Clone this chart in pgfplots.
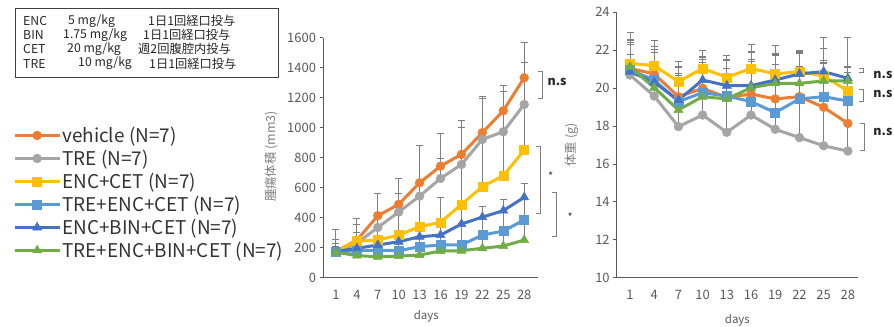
\documentclass[border=0pt]{standalone}
\usepackage{pgfplots}
\pgfplotsset{compat=1.18}
\usepackage{fontspec}
\setmainfont{Noto Sans CJK JP}
\definecolor{cveh}{HTML}{ED7D31}
\definecolor{ctre}{HTML}{A5A5A5}
\definecolor{cec}{HTML}{FFC000}
\definecolor{ctec}{HTML}{5B9BD5}
\definecolor{cebc}{HTML}{4472C4}
\definecolor{ctebc}{HTML}{70AD47}
\definecolor{axgray}{HTML}{595959}
\definecolor{errgray}{HTML}{7F7F7F}
\pgfplotsset{
  common/.style={
    scale only axis, anchor=south west,
    axis x line*=bottom, axis y line*=left,
    axis line style={draw=axgray, line width=1bp},
    tick align=outside, xtick style={draw=none},
    ytick style={draw=axgray, line width=0.8bp}, major tick length=3.5bp,
    xtick={0,...,9}, xticklabels={1,4,7,10,13,16,19,22,25,28},
    tick label style={font=\fontsize{13}{15}\selectfont, text=axgray},
    xticklabel style={yshift=-5.5bp},
    /pgf/number format/assume math mode=true,
    /pgf/number format/1000 sep={},
    label style={font=\fontsize{12.5}{14}\selectfont, text=errgray},
    xlabel style={text=axgray, font=\fontsize{11.5}{13}\selectfont},
    clip=false,
    error bars/y dir=plus, error bars/y explicit,
    error bars/error bar style={draw=errgray, line width=1bp},
    error bars/error mark options={rotate=90, mark size=3.5bp, line width=1bp, draw=errgray},
    legend image code/.code={\draw[mark repeat=2,mark phase=2] plot coordinates {(0bp,0bp) (22.5bp,0bp) (45bp,0bp)};},
  },
  sveh/.style={draw=cveh, line width=3bp, mark=*, mark size=4.4bp, mark options={solid, fill=cveh, draw=cveh, line width=0.5bp}},
  stre/.style={draw=ctre, line width=3bp, mark=*, mark size=4.4bp, mark options={solid, fill=ctre, draw=ctre, line width=0.5bp}},
  sec/.style={draw=cec, line width=3bp, mark=square*, mark size=4.5bp, mark options={solid, fill=cec, draw=cec, line width=0.5bp}},
  stec/.style={draw=ctec, line width=3bp, mark=square*, mark size=4.5bp, mark options={solid, fill=ctec, draw=ctec, line width=0.5bp}},
  sebc/.style={draw=cebc, line width=3bp, mark=triangle*, mark size=5.2bp, mark options={solid, fill=cebc, draw=cebc, line width=0.5bp}},
  stebc/.style={draw=ctebc, line width=3bp, mark=triangle*, mark size=5.2bp, mark options={solid, fill=ctebc, draw=ctebc, line width=0.5bp}},
}
\begin{document}
\begin{tikzpicture}
\useasboundingbox (0bp,0bp) rectangle (894bp,327bp);
% dosing box
\draw[line width=0.8bp, black!75] (15bp,250bp) rectangle (278bp,319bp);
\begin{scope}[every node/.style={anchor=west, inner sep=0pt, font=\fontsize{12.3}{14}\selectfont, text=black!85}]
\node at (23bp,306.3bp) {ENC};  \node at (68bp,306.3bp) {5 mg/kg};    \node at (148bp,306.3bp) {1日1回経口投与};
\node at (23bp,292bp)   {BIN};  \node at (63bp,292bp)   {1.75 mg/kg}; \node at (143bp,292bp) {1日1回経口投与};
\node at (23bp,277.7bp) {CET};  \node at (67bp,277.7bp) {20 mg/kg};   \node at (138bp,277.7bp) {週2回腹腔内投与};
\node at (23bp,263.4bp) {TRE};  \node at (78bp,263.4bp) {10 mg/kg};   \node at (149bp,263.4bp) {1日1回経口投与};
\end{scope}

% tumour volume
\begin{axis}[common,
  at={(323bp,49.3bp)}, width=215bp, height=240bp,
  xmin=-0.62, xmax=9.66, ymin=0, ymax=1600, ytick={0,200,...,1600},
  xlabel={days}, ylabel={腫瘍体積 (mm3)},
  xlabel style={at={(axis description cs:0.48,-0.16)}, anchor=center},
  ylabel style={at={(axis description cs:-0.239,0.505)}, anchor=center},
  legend style={at={(axis description cs:-1.456,0.642)}, anchor=north west, draw=none, fill=none,
    font=\fontsize{19}{21}\selectfont, text=black!80, row sep=3.6bp,
    nodes={inner sep=1.2bp}},
  legend cell align=left,
]
\addplot[sveh] coordinates {(0,175) +- (0,143) (1,250) +- (0,146) (2,413) +- (0,150) (3,489) +- (0,174) (4,633) +- (0,250) (5,744) +- (0,219) (6,822) +- (0,225) (7,967) +- (0,240) (8,1113) +- (0,171) (9,1333) +- (0,236)};
\addlegendentry{vehicle (N=7)}
\addplot[stre] coordinates {(0,170) +- (0,86) (1,230) +- (0,126) (2,335) +- (0,100) (3,438) +- (0,125) (4,544) +- (0,340) (5,662) +- (0,134) (6,755) +- (0,248) (7,922) +- (0,270) (8,973) +- (0,271) (9,1155) +- (0,281)};
\addlegendentry{TRE (N=7)}
\addplot[sec] coordinates {(0,175) +- (0,55) (1,244) +- (0,56) (2,251) +- (0,84) (3,284) +- (0,154) (4,340) +- (0,204) (5,369) +- (0,167) (6,489) +- (0,266) (7,607) +- (0,315) (8,680) +- (0,293) (9,850) +- (0,290)};
\addlegendentry{ENC+CET (N=7)}
\addplot[stec] coordinates {(0,170) +- (0,40) (1,180) +- (0,30) (2,184) +- (0,40) (3,180) +- (0,60) (4,207) +- (0,66) (5,218) +- (0,66) (6,218) +- (0,140) (7,284) +- (0,120) (8,311) +- (0,136) (9,385) +- (0,152)};
\addlegendentry{TRE+ENC+CET (N=7)}
\addplot[sebc] coordinates {(0,175) +- (0,54) (1,196) +- (0,48) (2,218) +- (0,33) (3,240) +- (0,44) (4,273) +- (0,67) (5,284) +- (0,85) (6,358) +- (0,131) (7,404) +- (0,68) (8,447) +- (0,71) (9,536) +- (0,93)};
\addlegendentry{ENC+BIN+CET (N=7)}
\addplot[stebc] coordinates {(0,170) +- (0,30) (1,147) +- (0,33) (2,140) +- (0,44) (3,144) +- (0,36) (4,151) +- (0,56) (5,178) +- (0,40) (6,180) +- (0,38) (7,196) +- (0,88) (8,211) +- (0,100) (9,251) +- (0,134)};
\addlegendentry{TRE+ENC+BIN+CET (N=7)}
% significance brackets
\draw[errgray, line width=0.8bp] (axis cs:9.68,1373) -- (axis cs:9.89,1373) -- (axis cs:9.89,1196) -- (axis cs:9.68,1196);
\node[font=\bfseries\fontsize{12.5}{14}\selectfont, text=black!85] at (axis cs:10.57,1307) {n.s};
\draw[errgray, line width=0.8bp] (axis cs:9.57,878) -- (axis cs:9.76,878) -- (axis cs:9.76,429) -- (axis cs:9.57,429);
\node[font=\fontsize{11}{12}\selectfont, text=black!80] at (axis cs:10.27,680) {*};
\draw[errgray, line width=0.8bp] (axis cs:10.35,569) -- (axis cs:10.53,569) -- (axis cs:10.53,278) -- (axis cs:10.35,278);
\node[font=\fontsize{11}{12}\selectfont, text=black!80] at (axis cs:11.2,407) {*};
\end{axis}

% body weight
\begin{axis}[common,
  at={(616.7bp,49.3bp)}, width=241.3bp, height=265.4bp,
  xmin=-0.55, xmax=9.42, ymin=10, ymax=24, ytick={10,12,...,24},
  xlabel={days}, ylabel={体重 (g)},
  xlabel style={at={(axis description cs:0.5,-0.159)}, anchor=center},
  ylabel style={at={(axis description cs:-0.185,0.5)}, anchor=center},
]
\addplot[sveh] coordinates {(0,21.04) +- (0,1.9) (1,20.75) +- (0,1.75) (2,19.55) +- (0,1.88) (3,19.99) +- (0,2.0) (4,19.51) +- (0,2.2) (5,19.69) +- (0,2.6) (6,19.43) +- (0,2.8) (7,19.55) +- (0,2.4) (8,18.99) +- (0,3.1) (9,18.14) +- (0,1.14)};
\addplot[stre] coordinates {(0,20.69) +- (0,1.8) (1,19.58) +- (0,2.6) (2,17.97) +- (0,3.1) (3,18.58) +- (0,3.1) (4,17.67) +- (0,3.8) (5,18.58) +- (0,3.3) (6,17.83) +- (0,4.0) (7,17.39) +- (0,4.5) (8,16.96) +- (0,5.7) (9,16.68) +- (0,6.0)};
\addplot[sec] coordinates {(0,21.3) +- (0,1.0) (1,21.19) +- (0,0.7) (2,20.34) +- (0,0.8) (3,21.04) +- (0,0.6) (4,20.57) +- (0,0.9) (5,21.04) +- (0,0.9) (6,20.75) +- (0,1.0) (7,20.87) +- (0,1.1) (8,20.64) +- (0,0.8) (9,19.85) +- (0,1.0)};
\addplot[stec] coordinates {(0,20.96) +- (0,1.6) (1,20.43) +- (0,1.6) (2,19.29) +- (0,1.4) (3,19.76) +- (0,1.6) (4,19.58) +- (0,1.9) (5,19.29) +- (0,2.2) (6,18.71) +- (0,2.0) (7,19.43) +- (0,2.4) (8,19.55) +- (0,1.8) (9,19.32) +- (0,1.8)};
\addplot[sebc] coordinates {(0,20.87) +- (0,0.9) (1,20.3) +- (0,1.0) (2,19.37) +- (0,1.4) (3,20.43) +- (0,1.1) (4,20.13) +- (0,1.4) (5,20.13) +- (0,1.3) (6,20.43) +- (0,1.3) (7,20.75) +- (0,0.4) (8,20.87) +- (0,0.5) (9,20.52) +- (0,0.6)};
\addplot[stebc] coordinates {(0,21.13) +- (0,1.3) (1,20.02) +- (0,1.4) (2,18.85) +- (0,1.6) (3,19.55) +- (0,1.6) (4,19.43) +- (0,1.6) (5,20.02) +- (0,1.2) (6,20.25) +- (0,1.0) (7,20.25) +- (0,0.9) (8,20.38) +- (0,0.9) (9,20.38) +- (0,0.7)};
\draw[errgray, line width=0.8bp] (axis cs:9.48,21.04) -- (axis cs:9.65,21.04) -- (axis cs:9.65,20.81) -- (axis cs:9.48,20.81);
\node[font=\bfseries\fontsize{12.5}{14}\selectfont, text=black!85] at (axis cs:10.45,20.69) {n.s};
\draw[errgray, line width=0.8bp] (axis cs:9.47,19.94) -- (axis cs:9.64,19.94) -- (axis cs:9.64,19.28) -- (axis cs:9.47,19.28);
\node[font=\bfseries\fontsize{12.5}{14}\selectfont, text=black!85] at (axis cs:10.45,19.67) {n.s};
\draw[errgray, line width=0.8bp] (axis cs:9.5,18.14) -- (axis cs:9.67,18.14) -- (axis cs:9.67,16.74) -- (axis cs:9.5,16.74);
\node[font=\bfseries\fontsize{12.5}{14}\selectfont, text=black!85] at (axis cs:10.45,17.67) {n.s};
\end{axis}
\end{tikzpicture}
\end{document}
